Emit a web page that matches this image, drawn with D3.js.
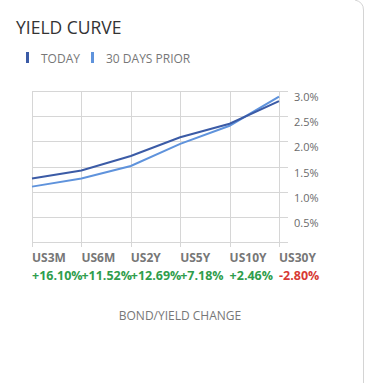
<!DOCTYPE html>
<html>
<head>
<meta charset="utf-8">
<script src="https://cdn.jsdelivr.net/npm/d3@7"></script>
<style>
  html, body { margin: 0; padding: 0; background: #fff; }
  svg { display: block; font-family: "Open Sans", Lato, sans-serif; }
</style>
</head>
<body>
<div id="chart"></div>
<script>
// Yield curve data
const tenors = ["US3M", "US6M", "US2Y", "US5Y", "US10Y", "US30Y"];
const today = [1.26, 1.42, 1.71, 2.08, 2.35, 2.80];
const prior = [1.10, 1.26, 1.51, 1.95, 2.31, 2.89];
const changes = ["+16.10%", "+11.52%", "+12.69%", "+7.18%", "+2.46%", "-2.80%"];
const yTicks = [0.5, 1.0, 1.5, 2.0, 2.5, 3.0];

const W = 367, H = 383;
const plot = { left: 32, right: 279, top: 91, bottom: 242 };

const todayColor = "#3b5ba6";
const priorColor = "#5f93dc";

const svg = d3.select("#chart")
    .append("svg")
    .attr("width", W)
    .attr("height", H);

// card border on the right
svg.append("path")
    .attr("d", "M355,0 Q363.5,2 363.5,10 L363.5,383")
    .attr("fill", "none")
    .attr("stroke", "#d4d4d4")
    .attr("stroke-width", 1);

// Title + legend
svg.append("text")
    .attr("x", 16)
    .attr("y", 33.5)
    .attr("fill", "#333")
    .style("font-size", "17.5px")
    .text("YIELD CURVE");

const legendItems = [
    { label: "TODAY", color: todayColor, x: 26 },
    { label: "30 DAYS PRIOR", color: priorColor, x: 91 }
];
const legend = svg.append("g");
legend.selectAll("rect")
    .data(legendItems)
    .enter()
    .append("rect")
    .attr("x", d => d.x)
    .attr("y", 52)
    .attr("width", 3)
    .attr("height", 11)
    .attr("fill", d => d.color);
legend.selectAll("text")
    .data(legendItems)
    .enter()
    .append("text")
    .attr("x", d => d.x + 15)
    .attr("y", 62.5)
    .attr("fill", "#777")
    .style("font-size", "12px")
    .text(d => d.label);

// Scales
const x = d3.scalePoint()
    .domain(tenors)
    .range([plot.left, plot.right]);

const y = d3.scaleLinear()
    .domain([0, 3.0])
    .range([plot.bottom, plot.top]);

// grid
svg.append("g")
    .selectAll("line")
    .data([0].concat(yTicks))
    .enter()
    .append("line")
    .attr("x1", plot.left)
    .attr("x2", plot.right + 9)
    .attr("y1", d => Math.round(y(d)) + 0.5)
    .attr("y2", d => Math.round(y(d)) + 0.5)
    .attr("stroke", "#d6d6d6");

svg.append("g")
    .selectAll("line")
    .data(tenors)
    .enter()
    .append("line")
    .attr("x1", d => Math.round(x(d)) + 0.5)
    .attr("x2", d => Math.round(x(d)) + 0.5)
    .attr("y1", plot.top)
    .attr("y2", plot.bottom + 5)
    .attr("stroke", "#d6d6d6");

// y labels
svg.append("g")
    .selectAll("text")
    .data(yTicks)
    .enter()
    .append("text")
    .attr("x", 294)
    .attr("y", d => y(d) + 10)
    .attr("fill", "#6b6b6b")
    .style("font-size", "11px")
    .text(d => d.toFixed(1) + "%");

// lines
const line = d3.line()
    .x((d, i) => x(tenors[i]))
    .y(d => y(d));

svg.append("path")
    .datum(prior)
    .attr("d", line)
    .attr("fill", "none")
    .attr("stroke", priorColor)
    .attr("stroke-width", 2);

svg.append("path")
    .datum(today)
    .attr("d", line)
    .attr("fill", "none")
    .attr("stroke", todayColor)
    .attr("stroke-width", 2);

// x labels and changes
svg.append("g")
    .selectAll("text")
    .data(tenors)
    .enter()
    .append("text")
    .attr("x", d => x(d))
    .attr("y", 261.5)
    .attr("fill", "#777")
    .style("font-size", "12px")
    .style("font-weight", "bold")
    .text(d => d);

svg.append("g")
    .selectAll("text")
    .data(changes)
    .enter()
    .append("text")
    .attr("x", (d, i) => x(tenors[i]))
    .attr("y", 280)
    .attr("fill", d => d[0] === "-" ? "#d83a34" : "#2f9d4c")
    .style("font-size", "12.5px")
    .style("font-weight", "bold")
    .text(d => d);

svg.append("text")
    .attr("x", 180)
    .attr("y", 320)
    .attr("text-anchor", "middle")
    .attr("fill", "#777")
    .style("font-size", "12px")
    .text("BOND/YIELD CHANGE");
</script>
</body>
</html>
